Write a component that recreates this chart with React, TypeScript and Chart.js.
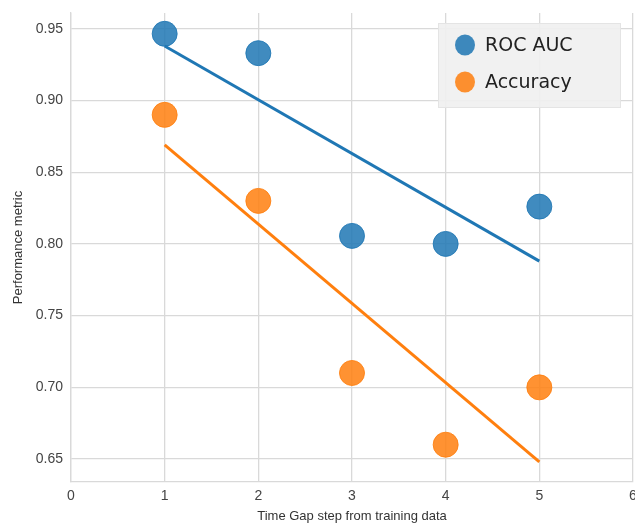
import React, { useEffect, useRef } from "react";
import { Chart, registerables } from "chart.js";

Chart.register(...registerables);

const steps = [1, 2, 3, 4, 5];
const rocAuc = [0.9465, 0.933, 0.8056, 0.8, 0.826];
const accuracy = [0.89, 0.83, 0.71, 0.66, 0.7];
const fitX = [1, 5];
const rocFit = [0.938, 0.788];
const accFit = [0.869, 0.648];
const xTicks = [0, 1, 2, 3, 4, 5, 6];
const yTicks = [0.65, 0.7, 0.75, 0.8, 0.85, 0.9, 0.95];
const legendLabels = ["ROC AUC", "Accuracy"];

const BLUE = "#1f77b4";
const ORANGE = "#ff7f0e";
const BLUE_PT = "rgba(31,119,180,0.85)";
const ORANGE_PT = "rgba(255,127,14,0.85)";

const legendPlugin = {
  id: "boxLegend",
  afterDraw(chart: any) {
    const ctx = chart.ctx;
    const area = chart.chartArea;
    const x0 = area.left + 367;
    const y0 = area.top + 10;
    const w = 183;
    const h = 85;
    ctx.save();
    ctx.fillStyle = "rgba(240,240,240,0.9)";
    ctx.strokeStyle = "rgba(228,228,228,1)";
    ctx.lineWidth = 1;
    ctx.fillRect(x0, y0, w, h);
    ctx.strokeRect(x0 + 0.5, y0 + 0.5, w - 1, h - 1);
    const colors = [BLUE_PT, ORANGE_PT];
    legendLabels.forEach((lab, i) => {
      const cy = y0 + 22 + i * 37;
      ctx.beginPath();
      ctx.ellipse(x0 + 27, cy, 10, 10.5, 0, 0, Math.PI * 2);
      ctx.fillStyle = colors[i];
      ctx.fill();
      ctx.fillStyle = "#222";
      ctx.font = "19px 'DejaVu Sans'";
      ctx.textBaseline = "middle";
      ctx.textAlign = "left";
      ctx.fillText(lab, x0 + 47, cy + 1);
    });
    ctx.restore();
  },
};

export default function App() {
  const ref = useRef<HTMLCanvasElement>(null);
  useEffect(() => {
    document.body.style.margin = "0";
    const canvas = ref.current!;
    const chart = new Chart(canvas, {
      type: "scatter",
      data: {
        datasets: [
          {
            label: legendLabels[0],
            data: steps.map((s, i) => ({ x: s, y: rocAuc[i] })),
            backgroundColor: BLUE_PT,
            borderColor: BLUE_PT,
            pointRadius: 12.5,
            pointHoverRadius: 12.5,
            order: 2,
          },
          {
            label: legendLabels[1],
            data: steps.map((s, i) => ({ x: s, y: accuracy[i] })),
            backgroundColor: ORANGE_PT,
            borderColor: ORANGE_PT,
            pointRadius: 12.5,
            pointHoverRadius: 12.5,
            order: 2,
          },
          {
            label: "roc fit",
            data: fitX.map((s, i) => ({ x: s, y: rocFit[i] })),
            showLine: true,
            borderColor: BLUE,
            borderWidth: 3,
            pointRadius: 0,
            order: 1,
          } as any,
          {
            label: "acc fit",
            data: fitX.map((s, i) => ({ x: s, y: accFit[i] })),
            showLine: true,
            borderColor: ORANGE,
            borderWidth: 3,
            pointRadius: 0,
            order: 1,
          } as any,
        ],
      },
      options: {
        animation: false,
        responsive: false,
        layout: { autoPadding: false, padding: { top: 13, right: 2, left: 0, bottom: 0 } },
        plugins: { legend: { display: false }, tooltip: { enabled: false } },
        scales: {
          x: {
            type: "linear",
            min: 0,
            max: 6,
            afterBuildTicks: (s: any) => {
              s.ticks = xTicks.map((v) => ({ value: v }));
            },
            afterFit: (s: any) => {
              s.height = 42;
              s.paddingRight = 0;
              s.paddingLeft = 0;
            },
            ticks: {
              color: "#444",
              font: { family: "'Liberation Sans'", size: 14 },
              padding: 6,
              callback: (v: any) => String(v),
            },
            grid: { color: "#d9d9d9", lineWidth: 1.3, drawTicks: false },
            border: { color: "#d9d9d9", width: 1.3 },
            title: {
              display: true,
              text: "Time Gap step from training data",
              color: "#333",
              font: { family: "'Liberation Sans'", size: 13 },
              padding: { top: 2, bottom: 0 },
            },
          },
          y: {
            type: "linear",
            min: 0.634,
            max: 0.961,
            afterBuildTicks: (s: any) => {
              s.ticks = yTicks.map((v) => ({ value: v }));
            },
            afterFit: (s: any) => {
              s.width = 71;
              s.paddingTop = 0;
              s.paddingBottom = 0;
            },
            ticks: {
              color: "#444",
              font: { family: "'Liberation Sans'", size: 14 },
              padding: 8,
              callback: (v: any) => Number(v).toFixed(2),
            },
            grid: { color: "#d9d9d9", lineWidth: 1.3, drawTicks: false },
            border: { color: "#d9d9d9", width: 1.3 },
            title: {
              display: true,
              text: "Performance metric",
              color: "#333",
              font: { family: "'Liberation Sans'", size: 13 },
              padding: { top: 11, bottom: 4 },
            },
          },
        },
      },
      plugins: [legendPlugin],
    });
    return () => chart.destroy();
  }, []);
  return (
    <div style={{ position: "absolute", left: 0, top: 0, width: 635, height: 524, background: "#fff" }}>
      <canvas ref={ref} width={635} height={524} style={{ width: 635, height: 524, display: "block" }} />
    </div>
  );
}
